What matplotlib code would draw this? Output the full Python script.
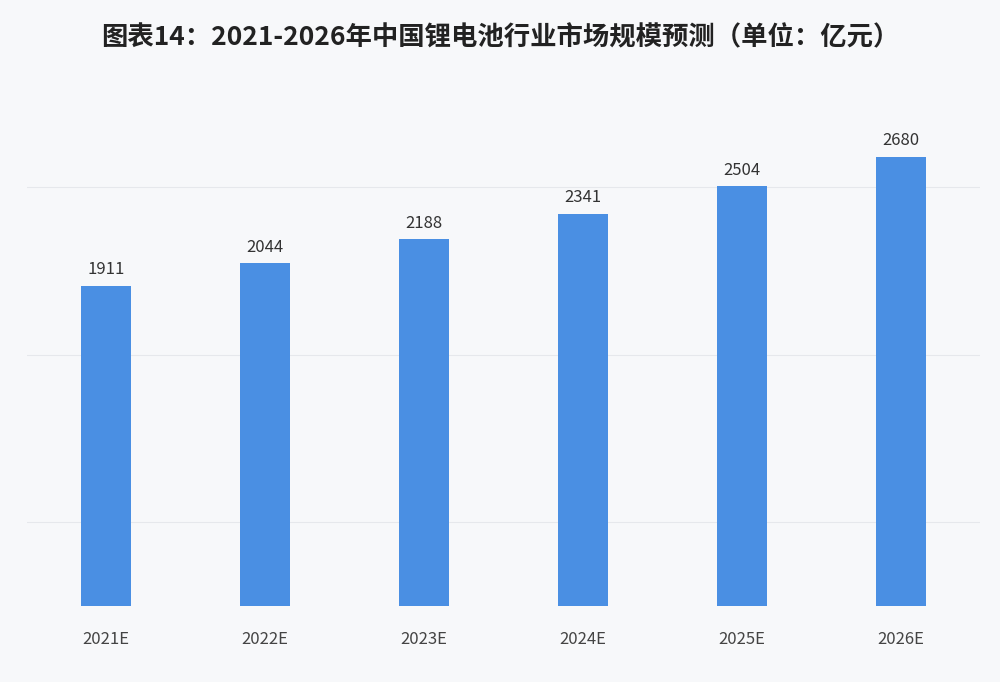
import matplotlib.pyplot as plt

plt.rcParams['font.family'] = ['Noto Sans CJK SC', 'DejaVu Sans']

years = ['2021E', '2022E', '2023E', '2024E', '2025E', '2026E']
values = [1911, 2044, 2188, 2341, 2504, 2680]

fig = plt.figure(figsize=(10, 6.82), dpi=100, facecolor='#f7f8fa')
ax = fig.add_axes([0.0265, 0.111, 0.954, 0.738])
ax.set_facecolor('#f7f8fa')

x = range(len(years))
ax.bar(x, values, width=0.31, color='#4a8fe3', zorder=3)
for i, v in zip(x, values):
    ax.text(i, v + 45, str(v), ha='center', va='bottom', fontsize=12, color='#333333')

ax.set_xlim(-0.5, len(years) - 0.5)
ax.set_ylim(0, 3000)
ax.set_yticks([500, 1500, 2500])
ax.yaxis.grid(True, color='#e6e8ec', linewidth=0.8, zorder=0)
ax.tick_params(left=False, labelleft=False, bottom=False)
ax.set_xticks(list(x))
ax.set_xticklabels(years, fontsize=12, color='#444444')
ax.tick_params(axis='x', pad=14)
for s in ax.spines.values():
    s.set_visible(False)

fig.text(0.5, 0.945, '图表14：2021-2026年中国锂电池行业市场规模预测（单位：亿元）',
         ha='center', va='center', fontsize=19, fontweight='bold', color='#222222')

fig.savefig('out.png', dpi=100, facecolor=fig.get_facecolor())
